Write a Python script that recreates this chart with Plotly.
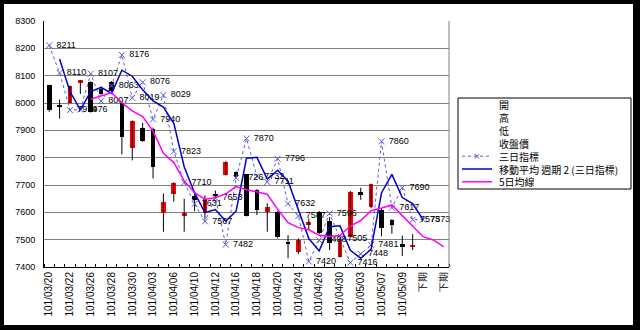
import plotly.graph_objects as go

# ---------------- data ----------------
dates = ["101/03/20", "101/03/21", "101/03/22", "101/03/23", "101/03/26", "101/03/27",
         "101/03/28", "101/03/29", "101/03/30", "101/04/02", "101/04/03", "101/04/05",
         "101/04/06", "101/04/09", "101/04/10", "101/04/11", "101/04/12", "101/04/13",
         "101/04/16", "101/04/17", "101/04/18", "101/04/19", "101/04/20", "101/04/23",
         "101/04/24", "101/04/25", "101/04/26", "101/04/27", "101/04/30", "101/05/02",
         "101/05/03", "101/05/04", "101/05/07", "101/05/08", "101/05/09", "101/05/10",
         "下期", "下期", "下期"]

open_ = [8065, 7993, 8001, 8076, 8078, 8050, 8078, 8001, 7837, 7907, 7905, 7599,
         7667, 7588, 7660, 7596, 7668, 7737, 7746, 7739, 7680, 7602, 7602, 7489,
         7456, 7552, 7602, 7569, 7438, 7511, 7675, 7620, 7610, 7572, 7483, 7475]
high = [8067, 8013, 8064, 8083, 8080, 8060, 8080, 8003, 7936, 7927, 7910, 7669,
        7710, 7650, 7678, 7662, 7680, 7787, 7750, 7741, 7685, 7633, 7605, 7517,
        7505, 7578, 7605, 7582, 7505, 7678, 7690, 7705, 7615, 7575, 7515, 7520]
low = [7968, 7943, 7999, 8033, 7965, 8030, 8040, 7812, 7790, 7858, 7724, 7529,
       7639, 7529, 7604, 7574, 7650, 7735, 7725, 7585, 7590, 7529, 7505, 7432,
       7448, 7535, 7520, 7462, 7435, 7509, 7646, 7615, 7512, 7522, 7440, 7462]
close = [7974, 7984, 8062, 8083, 7968, 8034, 8044, 7877, 7934, 7862, 7767, 7639,
         7708, 7599, 7645, 7650, 7662, 7785, 7730, 7588, 7608, 7621, 7508, 7486,
         7499, 7565, 7523, 7487, 7499, 7676, 7664, 7702, 7541, 7554, 7476, 7481]

three_day = [8211, 8110, 7974, 7976, 8107, 8007, 8063, 8176, 8019, 8076, 7940, 8029,
             7823, 7710, 7631, 7567, 7653, 7482, 7726, 7870, 7732, 7711, 7796, 7632,
             7587, 7420, 7498, 7596, 7505, 7416, 7448, 7481, 7860, 7617, 7690, 7573,
             7573]

ma2_start = 1
ma2 = [8161, 8042, 7975, 8042, 8057, 8035, 8120, 8098, 8048, 8008, 7985, 7926,
       7767, 7671, 7599, 7610, 7568, 7604, 7798, 7801, 7722, 7754, 7714, 7610,
       7504, 7459, 7547, 7551, 7461, 7432, 7465, 7671, 7739, 7654, 7632, 7573]

ma5_start = 4
ma5 = [8014, 8026, 8038, 8001, 7971, 7950, 7897, 7816, 7782, 7715, 7672, 7648,
       7653, 7668, 7694, 7683, 7675, 7666, 7611, 7562, 7544, 7536, 7516, 7512,
       7515, 7550, 7570, 7606, 7616, 7627, 7588, 7551, 7511, 7499, 7474]

legend_labels = ["開", "高", "低", "收盤價", "三日指標", "移動平均 週期 2 (三日指標)", "5日均線"]

y_min, y_max, y_step = 7400, 8300, 100

# ---------------- figure ----------------
W, H = 640, 330
L, R, T, B = 44, 191, 21, 63
PW, PH = W - L - R, H - T - B


def px2x(px):
    return (px - L) / PW


def py2y(py):
    return (H - B - py) / PH


n_c = len(close)
xc = list(range(n_c))

fig = go.Figure()

# high-low wicks
wx, wy = [], []
for i in range(n_c):
    wx += [i, i, None]
    wy += [low[i], high[i], None]
fig.add_trace(go.Scatter(x=wx, y=wy, mode="lines", line=dict(color="#000000", width=1),
                         showlegend=False, hoverinfo="skip"))

# candle bodies
base = [min(o, c) for o, c in zip(open_, close)]
hgt = [abs(c - o) for o, c in zip(open_, close)]
cols = ["#FF0000" if c >= o else "#000000" for o, c in zip(open_, close)]
fig.add_trace(go.Bar(x=xc, y=hgt, base=base, width=0.45, marker=dict(color=cols, line=dict(width=0)),
                     showlegend=False, hoverinfo="skip"))

# 三日指標
x3 = list(range(len(three_day)))
fig.add_trace(go.Scatter(
    x=x3, y=three_day, mode="lines+markers+text",
    line=dict(color="#5a5ad8", width=1, dash="dot"),
    marker=dict(symbol="x-thin", size=6, line=dict(width=1, color="#5a5ad8")),
    text=[str(v) for v in three_day], texttemplate=" %{text}",
    textposition="middle right",
    textfont=dict(size=9, color="#000000", family="Liberation Sans"),
    cliponaxis=False, showlegend=False))

# 移動平均 週期 2
fig.add_trace(go.Scatter(x=list(range(ma2_start, ma2_start + len(ma2))), y=ma2, mode="lines",
                         line=dict(color="#0000CC", width=1.5), showlegend=False))

# 5日均線
fig.add_trace(go.Scatter(x=list(range(ma5_start, ma5_start + len(ma5))), y=ma5, mode="lines",
                         line=dict(color="#FF00FF", width=1.5), showlegend=False))

shapes = []
annotations = []

# white inner card on black frame
shapes.append(dict(type="rect", xref="paper", yref="paper",
                   x0=px2x(4), x1=px2x(633), y0=py2y(325), y1=py2y(4),
                   fillcolor="white", line=dict(width=0), layer="below"))
# right border of plot area
shapes.append(dict(type="line", xref="paper", yref="paper", x0=1, x1=1, y0=0, y1=1,
                   line=dict(color="#808080", width=1)))

# legend box
shapes.append(dict(type="rect", xref="paper", yref="paper",
                   x0=px2x(458), x1=px2x(631), y0=py2y(189), y1=py2y(98),
                   fillcolor="white", line=dict(color="#000000", width=1)))
row0, row_h = 105, 12.8
for k, lab in enumerate(legend_labels):
    yc = py2y(row0 + k * row_h)
    annotations.append(dict(xref="paper", yref="paper", x=px2x(497), y=yc, text=lab,
                            showarrow=False, xanchor="left", yanchor="middle",
                            font=dict(size=10, color="#000000", family="Noto Sans CJK TC")))
    if k == 4:
        shapes.append(dict(type="line", xref="paper", yref="paper", x0=px2x(462), x1=px2x(492),
                           y0=yc, y1=yc, line=dict(color="#5a5ad8", width=1, dash="dot")))
        annotations.append(dict(xref="paper", yref="paper", x=px2x(477), y=yc, text="×",
                                showarrow=False, xanchor="center", yanchor="middle",
                                font=dict(size=9, color="#5a5ad8", family="DejaVu Sans")))
    elif k == 5:
        shapes.append(dict(type="line", xref="paper", yref="paper", x0=px2x(462), x1=px2x(492),
                           y0=yc, y1=yc, line=dict(color="#0000CC", width=1.5)))
    elif k == 6:
        shapes.append(dict(type="line", xref="paper", yref="paper", x0=px2x(462), x1=px2x(492),
                           y0=yc, y1=yc, line=dict(color="#FF00FF", width=1.5)))

fig.update_layout(
    width=W, height=H,
    margin=dict(l=L, r=R, t=T, b=B, pad=0),
    paper_bgcolor="#000000", plot_bgcolor="#FFFFFF",
    showlegend=False,
    shapes=shapes, annotations=annotations,
    bargap=0,
    xaxis=dict(
        range=[-0.5, len(dates) - 0.5],
        tickmode="array", tickvals=list(range(0, len(dates), 2)),
        ticktext=dates[::2], tickangle=-90,
        tickfont=dict(size=10, color="#000000", family="Liberation Sans"),
        ticks="", showgrid=False, zeroline=False,
        showline=True, linecolor="#000000", linewidth=1,
        minor=dict(tick0=-0.5, dtick=1, ticks="inside", ticklen=3, tickcolor="#000000", showgrid=False),
    ),
    yaxis=dict(
        range=[y_min, y_max], tickmode="linear", tick0=y_min, dtick=y_step,
        tickfont=dict(size=9, color="#000000", family="Liberation Sans"),
        ticks="outside", ticklen=6, tickcolor="rgba(0,0,0,0)",
        showgrid=True, gridcolor="#808080", gridwidth=1, zeroline=False,
        showline=True, linecolor="#000000", linewidth=1,
    ),
)

fig.write_html("out.html")
